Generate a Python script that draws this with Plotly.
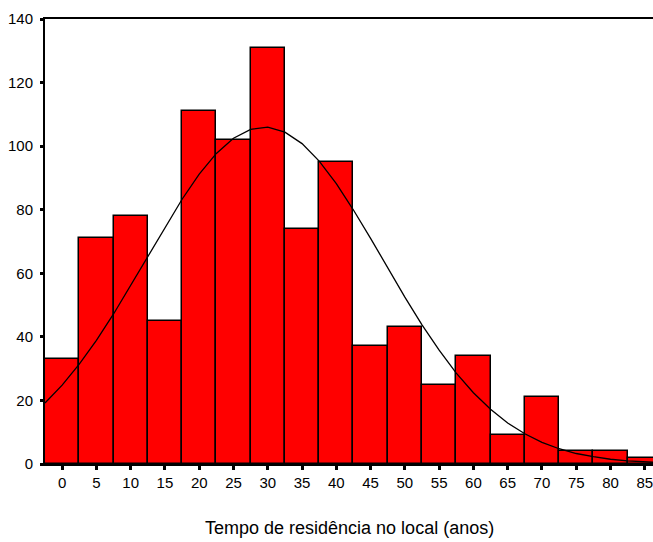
import plotly.graph_objects as go

# Histogram bins (centers, years) and counts
bin_centers = [0, 5, 10, 15, 20, 25, 30, 35, 40, 45, 50, 55, 60, 65, 70, 75, 80, 85]
counts = [33, 71, 78, 45, 111, 102, 131, 74, 95, 37, 43, 25, 34, 9, 21, 4, 4, 2]

# Overlaid normal curve
curve_x = [-2.5, 0, 2.5, 5, 7.5, 10, 12.5, 15, 17.5, 20, 22.5, 25, 27.5, 30, 32.5,
           35, 37.5, 40, 42.5, 45, 47.5, 50, 52.5, 55, 57.5, 60, 62.5, 65, 67.5,
           70, 72.5, 75, 77.5, 80, 82.5, 85, 87.5]
curve_y = [19.2, 24.8, 31.4, 38.9, 47.2, 56.2, 65.4, 74.6, 83.3, 91.2, 97.7, 102.5,
           105.3, 106.0, 104.4, 100.8, 95.3, 88.2, 79.9, 71.0, 61.7, 52.5, 43.8,
           35.8, 28.6, 22.4, 17.2, 12.9, 9.5, 6.8, 4.8, 3.3, 2.3, 1.5, 1.0, 0.6, 0.4]

x_ticks = [0, 5, 10, 15, 20, 25, 30, 35, 40, 45, 50, 55, 60, 65, 70, 75, 80, 85]
y_ticks = [0, 20, 40, 60, 80, 100, 120, 140]
x_title = "Tempo de residência no local (anos)"

FONT = "Arial, 'Liberation Sans', sans-serif"

fig = go.Figure()
fig.add_trace(go.Bar(
    x=bin_centers, y=counts, width=5,
    marker=dict(color="#FF0000", line=dict(color="black", width=1.5)),
    showlegend=False, hoverinfo="skip",
))
fig.add_trace(go.Scatter(
    x=curve_x, y=curve_y, mode="lines",
    line=dict(color="black", width=1.3),
    showlegend=False, hoverinfo="skip",
))

fig.update_layout(
    width=653, height=542,
    margin=dict(l=45, r=0, t=19, b=78),
    paper_bgcolor="white", plot_bgcolor="white",
    font=dict(family=FONT, size=15, color="black"),
    bargap=0,
    xaxis=dict(
        range=[-2.5, 86.2], tickvals=x_ticks, ticktext=[str(v) for v in x_ticks],
        ticks="outside", ticklen=4, tickwidth=3, tickcolor="black",
        showline=True, linecolor="black", linewidth=2, mirror=True,
        showgrid=False, zeroline=False, ticklabeloverflow="allow",
        tickfont=dict(family=FONT, size=15, color="black"),
    ),
    yaxis=dict(
        range=[0, 140], tickvals=y_ticks,
        ticks="outside", ticklen=3, tickwidth=3, tickcolor="black",
        showline=True, linecolor="black", linewidth=2,
        showgrid=False, zeroline=False,
        ticklabelstandoff=4,
        tickfont=dict(family=FONT, size=15, color="black"),
    ),
    annotations=[dict(
        text=x_title, xref="paper", yref="paper",
        x=0.5, y=-64 / 445, xanchor="center", yanchor="middle",
        showarrow=False, font=dict(family=FONT, size=18, color="black"),
    )],
)

fig.write_html(
    "out.html",
    config={"displayModeBar": False},
    post_script="document.body.style.margin='0';document.body.style.overflow='hidden';",
)
